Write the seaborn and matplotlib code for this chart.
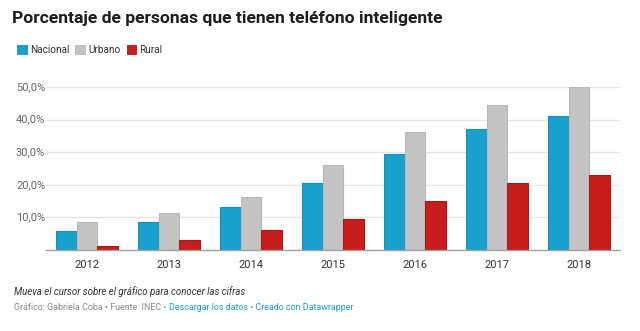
import matplotlib
matplotlib.use("Agg")
import matplotlib.pyplot as plt
import matplotlib.transforms as mtrans
import seaborn as sns
import pandas as pd
from matplotlib.patches import Patch
from matplotlib.ticker import FuncFormatter

years = ["2012", "2013", "2014", "2015", "2016", "2017", "2018"]
nacional = [5.9, 8.7, 13.1, 20.6, 29.5, 37.1, 41.2]
urbano = [8.5, 11.4, 16.2, 26.1, 36.3, 44.4, 49.9]
rural = [1.2, 2.9, 6.2, 9.6, 15.1, 20.6, 23.1]
series = ["Nacional", "Urbano", "Rural"]
colors = ["#18a1cd", "#c4c4c4", "#c71e1d"]
edges = ["#1592bb", "#b8b8b8", "#a8191a"]
yticks = [10, 20, 30, 40, 50]

rows = []
for name, vals in zip(series, [nacional, urbano, rural]):
    for y, v in zip(years, vals):
        rows.append({"Año": y, "Serie": name, "Valor": v})
df = pd.DataFrame(rows)

sns.set_style("white")
plt.rcParams["font.family"] = ["Roboto", "DejaVu Sans"]

fig = plt.figure(figsize=(6.4, 3.31), dpi=100)
ax = fig.add_axes([0.072, 0.245, 0.897, 0.492])

sns.barplot(data=df, x="Año", y="Valor", hue="Serie", hue_order=series,
            palette=colors, width=0.75, ax=ax, legend=False, saturation=1)

for i, name in enumerate(series):
    for bar in ax.containers[i]:
        bar.set_edgecolor(edges[i])
        bar.set_linewidth(0.8)

ax.set_xlim(-0.5, 6.5)
ax.set_ylim(0, 50)
ax.set_yticks(yticks)
ax.yaxis.set_major_formatter(FuncFormatter(lambda v, p: f"{v:.1f}".replace(".", ",") + "%"))
ax.grid(axis="y", color="#e6e6e6", linewidth=1)
ax.set_axisbelow(True)
for s in ["top", "right", "left"]:
    ax.spines[s].set_visible(False)
ax.spines["bottom"].set_color("#a0a0a0")
ax.spines["bottom"].set_linewidth(1)
ax.set_xlabel("")
ax.set_ylabel("")
ax.tick_params(axis="y", length=0, pad=0, labelsize=8, labelcolor="#666666")
ax.tick_params(axis="x", length=0, pad=7, labelsize=8, labelcolor="#333333")
for lbl in ax.get_yticklabels():
    lbl.set_horizontalalignment("left")
    lbl.set_verticalalignment("center")
    lbl.set_transform(mtrans.blended_transform_factory(fig.transFigure, ax.transData))
    lbl.set_x(16 / 640)

fig.text(12 / 640, 1 - 19 / 331, "Porcentaje de personas que tienen teléfono inteligente",
         fontsize=12.6, fontweight="bold", color="#1d1d1d", va="center", ha="left")

handles = [Patch(facecolor=c, edgecolor=e, linewidth=0.6) for c, e in zip(colors, edges)]
fig.legend(handles, series, loc="center left", bbox_to_anchor=(8 / 640, 1 - 50 / 331),
           ncol=3, frameon=False, fontsize=7.2, handlelength=0.95, handleheight=0.95,
           handletextpad=0.35, columnspacing=0.6, labelcolor="#333333")

fig.text(14 / 640, 1 - 292 / 331, "Mueva el cursor sobre el gráfico para conocer las cifras",
         fontsize=6.9, style="italic", color="#333333", va="center", ha="left")

t1 = fig.text(14 / 640, 1 - 307.5 / 331, "Gráfico: Gabriela Coba • Fuente: INEC • ",
              fontsize=6.4, color="#888888", va="center", ha="left")
fig.canvas.draw()
bb = t1.get_window_extent()
fig.text(bb.x1 / fig.bbox.width, 1 - 307.5 / 331, "Descargar los datos • Creado con Datawrapper",
         fontsize=6.4, color="#1d9bd1", va="center", ha="left")

fig.savefig("out.png", dpi=100, facecolor="white")
